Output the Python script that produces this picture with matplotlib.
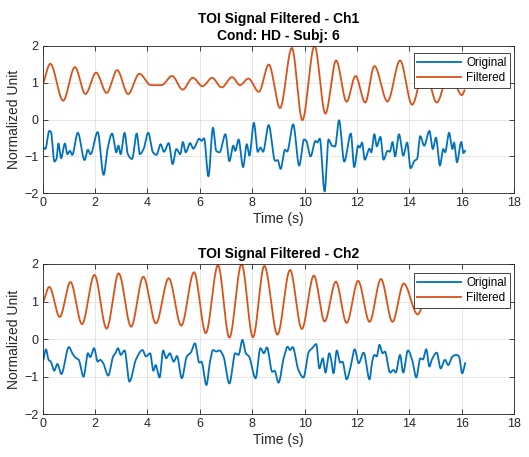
import numpy as np
import matplotlib
matplotlib.use("Agg")
import matplotlib.pyplot as plt

plt.rcParams["font.family"] = ["Liberation Sans", "DejaVu Sans"]

# ---- Channel 1 ----
ch1_filt_time = [0.03, 0.29, 0.78, 1.23, 1.63, 2.04, 2.44, 2.84, 3.26, 3.69, 4.13, 4.53,
                 4.94, 5.34, 5.73, 6.10, 6.46, 6.83, 7.23, 7.53, 7.85, 8.25, 8.63, 9.06,
                 9.51, 9.91, 10.375, 10.79, 11.2, 11.6, 11.94, 12.31, 12.66, 13.16, 13.64,
                 14.1, 14.57, 15.04, 15.52, 16.0, 16.1]
ch1_filt = [1.0, 1.51, 0.51, 1.42, 0.69, 1.27, 0.72, 1.34, 0.69, 1.24, 0.93, 0.93,
            1.18, 0.81, 1.13, 0.90, 1.13, 0.87, 1.15, 0.93, 1.11, 0.75, 1.49, 0.31,
            1.94, -0.02, 2.0, 0.16, 1.6, 0.48, 1.18, 0.46, 1.45, 0.49, 1.6,
            0.40, 1.4, 0.46, 1.3, 0.66, 0.79]

ch1_orig_time = [0.03, 0.1, 0.25, 0.31, 0.45, 0.525, 0.6, 0.7, 0.85, 0.94, 1.04, 1.125,
                 1.34, 1.6, 1.725, 1.825, 2.1, 2.325, 2.475, 2.65, 2.81, 2.89, 2.975,
                 3.125, 3.25, 3.41, 3.59, 3.71, 3.85, 4.03, 4.21, 4.34, 4.5, 4.63, 4.81,
                 4.96, 5.1, 5.25, 5.35, 5.46, 5.625, 5.75, 5.975, 6.06, 6.16, 6.325, 6.5,
                 6.625, 6.75, 6.975, 7.125, 7.275, 7.35, 7.475, 7.65, 7.79, 7.89, 8.06,
                 8.21, 8.31, 8.41, 8.625, 8.87, 8.97, 9.08, 9.25, 9.33, 9.56, 9.79, 9.975,
                 10.06, 10.225, 10.41, 10.475, 10.575, 10.76, 10.91, 11.04, 11.16, 11.31,
                 11.51, 11.76, 11.89, 12.04, 12.1, 12.19, 12.29, 12.475, 12.54, 12.66,
                 12.75, 12.89, 13.01, 13.16, 13.25, 13.35, 13.45, 13.6, 13.76, 13.91,
                 14.04, 14.19, 14.29, 14.41, 14.56, 14.76, 14.89, 15.01, 15.16, 15.29,
                 15.36, 15.51, 15.64, 15.7, 15.81, 15.975, 16.06, 16.125]
ch1_orig = [-0.76, -0.80, -0.31, -0.33, -1.14, -1.07, -0.65, -1.05, -0.65, -0.94, -0.85, -0.96,
            -0.36, -1.10, -0.82, -0.94, -0.34, -1.5, -0.80, -0.38, -0.89, -0.71, -0.94,
            -0.36, -0.94, -1.07, -0.38, -0.94, -0.80, -0.36, -0.89, -0.96, -0.67, -0.875, -0.64,
            -1.21, -0.80, -0.94, -0.61, -0.89, -0.64, -0.79, -0.52, -0.58, -0.51, -1.54, -0.22,
            -0.85, -0.89, -0.40, -1.13, -0.71, -0.85, -0.54, -1.29, -0.67, -0.98, -0.09,
            -0.875, -0.76, -0.875, -0.15, -1.12, -1.10, -1.34, -0.82, -0.87, -0.13, -1.25, -0.54,
            -0.58, -1.0, -0.58, -0.625, -0.52, -1.95, -0.54, -0.71, -0.73, -0.02,
            -1.14, -0.38, -1.29, -0.71, -0.76, -0.625, -1.09, -0.79, -0.89, -0.40,
            -0.73, -0.47, -1.09, -0.85, -0.875, -0.61, -1.0, -0.40, -0.98, -0.625,
            -1.32, -1.12, -1.07, -0.45, -0.71, -0.31, -0.80, -0.49, -1.25, -0.80,
            -0.89, -0.36, -0.80, -0.625, -1.16, -0.61, -0.91, -0.85]

# ---- Channel 2 ----
ch2_filt_time = [0.03, 0.25, 0.65, 1.06, 1.5, 1.975, 2.44, 2.9, 3.375, 3.84, 4.32, 4.81,
                 5.29, 5.775, 6.225, 6.69, 7.125, 7.59, 8.025, 8.46, 8.96, 9.44, 9.89,
                 10.35, 10.76, 11.19, 11.6, 12.04, 12.475, 12.91, 13.35, 13.78, 14.31,
                 14.75, 15.2, 15.65, 16.1]
ch2_filt = [1.0, 1.39, 0.59, 1.52, 0.40, 1.71, 0.28, 1.75, 0.33, 1.66, 0.42, 1.62,
            0.36, 1.78, 0.16, 1.97, 0.04, 2.0, 0.05, 1.95, 0.12, 1.84, 0.27,
            1.69, 0.47, 1.53, 0.43, 1.55, 0.46, 1.6, 0.46, 1.48, 0.66,
            1.35, 0.9, 1.25, 1.0]

ch2_orig_time = [0.03, 0.125, 0.225, 0.31, 0.44, 0.56, 0.71, 1.0, 1.125, 1.25, 1.375, 1.56,
                 1.725, 1.81, 1.96, 2.1, 2.19, 2.31, 2.5, 2.69, 2.775, 2.875, 2.975, 3.125,
                 3.31, 3.56, 3.81, 3.94, 4.1, 4.225, 4.31, 4.46, 4.6, 4.71, 4.85, 5.0,
                 5.125, 5.31, 5.5, 5.66, 5.81, 5.975, 6.06, 6.25, 6.375, 6.5, 6.625, 6.75,
                 6.9, 7.125, 7.35, 7.475, 7.625, 7.75, 7.875, 8.125, 8.31, 8.44, 8.56,
                 8.76, 8.85, 9.0, 9.2, 9.35, 9.44, 9.54, 9.76, 9.95, 10.16, 10.29, 10.44,
                 10.56, 10.69, 10.79, 10.94, 11.0, 11.1, 11.225, 11.35, 11.44, 11.6, 11.725,
                 11.91, 12.06, 12.25, 12.475, 12.575, 12.66, 12.75, 12.85, 12.975, 13.06,
                 13.26, 13.39, 13.475, 13.64, 13.76, 13.94, 14.1, 14.26, 14.41, 14.51,
                 14.64, 14.76, 14.85, 15.04, 15.19, 15.35, 15.475, 15.64, 15.79, 15.89,
                 16.01, 16.125]
ch2_orig = [-0.54, -0.27, -0.55, -0.60, -0.84, -0.66, -0.93, -0.21, -0.375, -0.49, -0.55, -1.0,
            -0.375, -0.48, -0.24, -0.60, -0.55, -0.64, -0.97, -0.46, -0.375, -0.24, -0.42, -0.30,
            -1.13, -0.54, -0.29, -0.46, -0.375, -0.84, -0.69, -1.02, -0.30, -0.51, -0.375, -0.60,
            -0.45, -1.04, -0.46, -0.35, -0.11, -0.625, -0.60, -1.22, -0.64, -0.29, -0.33, -0.30,
            -0.46, -1.18, -0.375, -0.42, -0.02, -0.375, -0.46, -1.04, -0.24, -0.375, -0.22,
            -0.87, -0.84, -1.16, -0.50, -0.20, -0.29, -0.21, -0.82, -1.02, -0.33, -0.24, -0.13,
            -0.78, -0.51, -0.89, -0.375, -0.51, -0.91, -0.30, -0.625, -0.60, -1.07, -0.82,
            -0.27, -0.64, -0.36, -1.07, -0.60, -0.42, -0.46, -0.15, -0.375, -0.33,
            -0.89, -0.82, -0.89, -0.42, -0.89, -0.30, -0.55, -1.02, -0.51, -0.54,
            -0.27, -0.73, -0.55, -0.36, -0.78, -0.55, -0.69, -0.46, -0.42, -0.46,
            -0.91, -0.64]

BLUE = "#0072BD"
ORANGE = "#D95319"
DARK = "#262626"


def monotone_curve(t, v, n=3000):
    """Shape-preserving cubic (Fritsch-Carlson) curve through the given points."""
    x = np.asarray(t, float)
    y = np.asarray(v, float)
    h = np.diff(x)
    delta = np.diff(y) / h
    d = np.zeros_like(y)
    for k in range(1, len(x) - 1):
        if delta[k - 1] * delta[k] > 0:
            w1 = 2 * h[k] + h[k - 1]
            w2 = h[k] + 2 * h[k - 1]
            d[k] = (w1 + w2) / (w1 / delta[k - 1] + w2 / delta[k])
    d[0] = delta[0]
    d[-1] = delta[-1]
    xs = np.linspace(x[0], x[-1], n)
    idx = np.clip(np.searchsorted(x, xs) - 1, 0, len(x) - 2)
    s = (xs - x[idx]) / h[idx]
    h00 = 2 * s**3 - 3 * s**2 + 1
    h10 = s**3 - 2 * s**2 + s
    h01 = -2 * s**3 + 3 * s**2
    h11 = s**3 - s**2
    ys = h00 * y[idx] + h10 * h[idx] * d[idx] + h01 * y[idx + 1] + h11 * h[idx] * d[idx + 1]
    return xs, ys


fig = plt.figure(figsize=(5.29, 4.57), dpi=100)
ax1 = fig.add_axes([0.0807, 0.577, 0.8915, 0.323])
ax2 = fig.add_axes([0.0807, 0.0934, 0.8915, 0.329])

panels = [
    (ax1, ch1_orig_time, ch1_orig, ch1_filt_time, ch1_filt,
     "TOI Signal Filtered - Ch1\nCond: HD - Subj: 6", 0.948),
    (ax2, ch2_orig_time, ch2_orig, ch2_filt_time, ch2_filt,
     "TOI Signal Filtered - Ch2", 0.938),
]

for ax, to, vo, tf, vf, title, leg_y in panels:
    xo, yo = monotone_curve(to, vo)
    xf, yf = monotone_curve(tf, vf)
    ax.plot(xo, yo, color=BLUE, lw=1.3, label="Original")
    ax.plot(xf, yf, color=ORANGE, lw=1.3, label="Filtered")
    ax.set_xlim(0, 18)
    ax.set_ylim(-2, 2)
    ax.set_xticks(np.arange(0, 19, 2))
    ax.set_yticks([-2, -1, 0, 1, 2])
    ax.grid(True, color="#e2e2e2", lw=0.6)
    ax.set_axisbelow(True)
    ax.tick_params(direction="in", top=True, right=True, length=3.5, width=0.6,
                   colors=DARK, labelsize=9, pad=3)
    for sp in ax.spines.values():
        sp.set_color(DARK)
        sp.set_linewidth(0.6)
    ax.set_xlabel("Time (s)", fontsize=10, color=DARK, labelpad=2)
    ax.set_ylabel("Normalized Unit", fontsize=10, color=DARK, labelpad=2)
    ax.set_title(title, fontsize=10, fontweight="bold", color="black", pad=4,
                 linespacing=1.25)
    leg = ax.legend(loc="upper right", bbox_to_anchor=(0.991, leg_y), fontsize=8.5,
                    frameon=True, fancybox=False, framealpha=1, edgecolor=DARK,
                    handlelength=3.7, handletextpad=0.45, borderpad=0.3,
                    labelspacing=0.3, borderaxespad=0)
    leg.get_frame().set_linewidth(0.6)

fig.savefig("out.png", dpi=100)
